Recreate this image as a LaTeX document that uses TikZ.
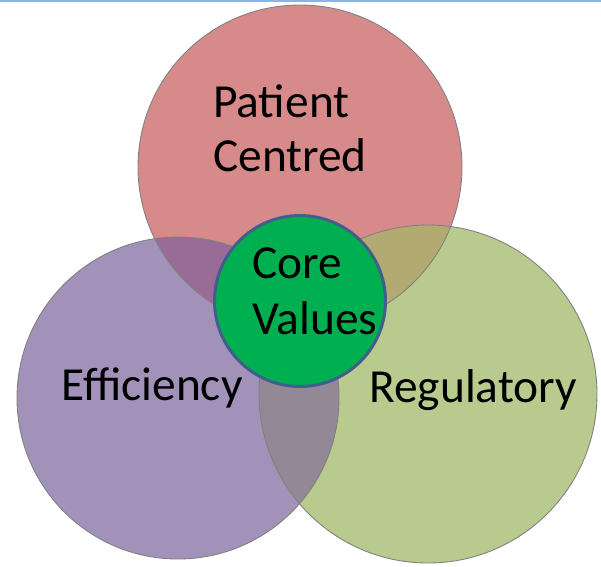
\documentclass[tikz,border=0pt]{standalone}
\usepackage{fontspec}
\setmainfont{Carlito}
\usepackage {tikz}
\usetikzlibrary {positioning}
\definecolor {patientred}{RGB}{214,138,138}
\definecolor {efficiencypurple}{RGB}{162,146,186}
\definecolor {regulatorygreen}{RGB}{185,202,142}
\definecolor {redpurple}{RGB}{152,108,150}
\definecolor {redgreen}{RGB}{178,170,112}
\definecolor {purplegreen}{RGB}{146,136,150}
\definecolor {allthree}{RGB}{130,110,120}
\definecolor {coregreen}{RGB}{0,176,80}
\definecolor {coreblue}{RGB}{65,95,140}
\definecolor {topline}{RGB}{141,179,226}

\def\redcircle{(300,167) circle (162)}
\def\purplecircle{(178,398) circle (161)}
\def\greencircle{(428,394) circle (169)}

\begin{document}
\begin{tikzpicture}[x=0.02cm ,y=-0.02cm ,
ring/.style ={draw=black!50 ,line width=0.5pt},
venntext/.style ={font=\fontsize{27}{30.6}\selectfont ,inner sep=0pt ,text=black},
core/.style ={circle ,fill=coregreen ,draw=coreblue ,line width=1.7pt ,
minimum size=3.42cm ,inner sep=0pt}]
\useasboundingbox (0,0) rectangle (601,566);
\draw[topline ,line width=1.1pt] (0,1) -- (601,1);
% the three sets
\fill[patientred] \redcircle;
\fill[efficiencypurple] \purplecircle;
\fill[regulatorygreen] \greencircle;
\begin{scope}
\clip \redcircle;
\fill[redpurple] \purplecircle;
\fill[redgreen] \greencircle;
\clip \purplecircle;
\fill[allthree] \greencircle;
\end{scope}
\begin{scope}
\clip \purplecircle;
\fill[purplegreen] \greencircle;
\clip \redcircle;
\fill[allthree] \greencircle;
\end{scope}
\draw[ring] \redcircle;
\draw[ring] \purplecircle;
\draw[ring] \greencircle;
% labels
\node[venntext ,align=left] (patient) at (290,128) {Patient\\Centred};
\node[venntext ,anchor=base] (efficiency) at (152,400) {Efficiency};
\node[venntext ,anchor=base] (regulatory) at (473,402) {Regulatory};
% centre
\node[core] (core) at (300,301) {};
\node[venntext ,align=left ,font=\fontsize{27}{31.8}\selectfont] (corevalues) at (315,291) {Core\\Values};
\end{tikzpicture}
\end{document}
